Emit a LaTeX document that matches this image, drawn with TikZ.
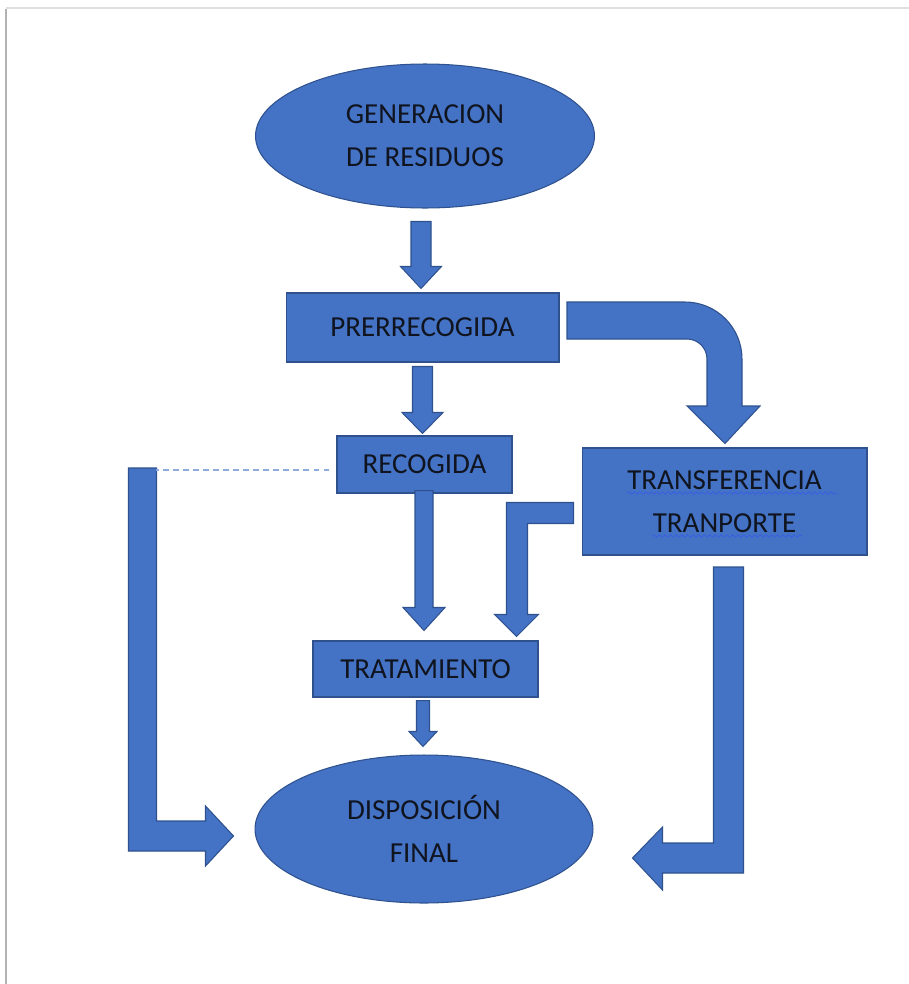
\documentclass[tikz,border=0pt]{standalone}
\usepackage{fontspec}
\setmainfont{Carlito}
\usetikzlibrary{shapes.geometric, calc, decorations.pathmorphing}
\definecolor{boxBlue}{HTML}{4472C4}
\definecolor{edgeBlue}{HTML}{2F528F}
\definecolor{dashBlue}{HTML}{8FAADC}
\definecolor{squigBlue}{HTML}{3A62E0}
\definecolor{txtDark}{HTML}{10141F}
\newcommand{\pxu}{0.569pt}
% straight block arrow: top point, tip point, shaft half width, head half width, head length
\newcommand{\vblk}[5]{%
  \path[blk] let \p1=#1, \p2=#2 in
    (\x1-#3*\pxu,\y1) -- (\x1+#3*\pxu,\y1) -- (\x1+#3*\pxu,\y2+#5*\pxu)
    -- (\x1+#4*\pxu,\y2+#5*\pxu) -- (\x1,\y2) -- (\x1-#4*\pxu,\y2+#5*\pxu)
    -- (\x1-#3*\pxu,\y2+#5*\pxu) -- cycle;}

\begin{document}
\begin{tikzpicture}[x=0.02cm, y=-0.02cm,
   stage/.style={rectangle, fill=boxBlue, draw=edgeBlue, line width=0.6pt,
                 inner sep=0pt, align=center, text=txtDark,
                 font=\fontsize{16.5}{24.5}\selectfont},
   oval/.style={stage, ellipse},
   blk/.style={fill=boxBlue, draw=edgeBlue, line width=0.6pt, line join=miter},
   dashln/.style={dashBlue, line width=1.1pt, dash pattern=on 3.4pt off 2.3pt},
   squig/.style={squigBlue, line width=0.5pt, decorate,
                 decoration={snake, segment length=3.2pt, amplitude=0.7pt}}]

\useasboundingbox (0,0) rectangle (909,984);
\fill[white] (0,0) rectangle (909,984);
% page edge
\draw[black!30, line width=1.4pt] (6,9) -- (6,984);
\draw[black!12, line width=1.2pt] (6,8) -- (909,8);

% stages
\node[oval, minimum width=6.78cm, minimum height=2.88cm] (gen) at (425,136)
     {GENERACION\\DE RESIDUOS};
\node[stage, minimum width=5.46cm, minimum height=1.38cm] (pre) at (422.5,327.5)
     {PRERRECOGIDA};
\node[stage, minimum width=3.5cm, minimum height=1.14cm] (rec) at (424.5,464.5)
     {RECOGIDA};
\node[stage, minimum width=5.7cm, minimum height=2.14cm] (trf) at (724.5,501.5)
     {TRANSFERENCIA\\TRANPORTE};
\node[stage, minimum width=4.5cm, minimum height=1.12cm] (tra) at (425.5,669)
     {TRATAMIENTO};
\node[oval, minimum width=6.76cm, minimum height=2.96cm] (dis) at (424,829)
     {DISPOSICIÓN\\FINAL};

% spell-check marks
\draw[squig] (627,493) -- (838,493);
\draw[squig] (652,536) -- (802,536);

% straight arrows
\vblk{($(gen.south)+(-4,13)$)}{($(pre.north)+(0,-4)$)}{10}{20.5}{22}
\vblk{($(pre.south)+(0,4)$)}{($(rec.north)+(0,-2)$)}{10}{20.5}{21}
\vblk{($(rec.south)+(-0.5,-3)$)}{($(tra.north)+(0,-10)$)}{9}{21}{23}
\vblk{($(tra.south)+(-2.5,3)$)}{($(dis.north)+(0,-8)$)}{6.5}{14}{15}

% bent arrows
\coordinate (ltip) at ($(dis.west)+(-21,7)$);
\path[blk] (ltip) -- ++(-28,-30) -- ++(0,15) -- ++(-49,0) -- ++(0,-353)
   -- ++(-28,0) -- ++(0,383) -- ++(77,0) -- ++(0,15) -- cycle;
\coordinate (rtip) at ($(dis.east)+(39,29)$);
\path[blk] (rtip) -- ++(30,-31) -- ++(0,16) -- ++(51,0) -- ++(0,-276)
   -- ++(30,0) -- ++(0,306) -- ++(-81,0) -- ++(0,17) -- cycle;
\coordinate (mtip) at ($(tra.north east)+(-22,-4)$);
\path[blk] (mtip) -- ++(22,-22) -- ++(-11,0) -- ++(0,-91) -- ++(46,0)
   -- ++(0,-21) -- ++(-67,0) -- ++(0,112) -- ++(-12,0) -- cycle;
\coordinate (ctip) at ($(trf.north)+(0.5,-4)$);
\path[blk] (ctip) -- (760,406) -- (742,406) -- (742,359)
   .. controls (742,327.5) and (716.5,302) .. (685,302) -- (567,302)
   -- (567,339) -- (687,339) .. controls (698,339) and (707,348) .. (707,359)
   -- (707,406) -- (687,406) -- cycle;

% dotted link
\draw[dashln] ($(rec.west)+(-7,5.5)$) -- ++(-173,0);
\end{tikzpicture}
\end{document}
